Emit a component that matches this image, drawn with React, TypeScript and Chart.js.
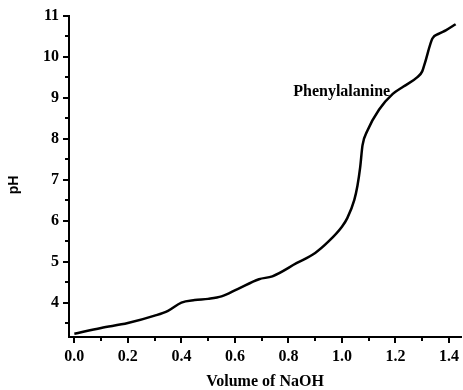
import React, { useEffect, useRef } from "react";
import { Chart, registerables } from "chart.js";

Chart.register(...registerables);

const volumes = [0, 0.1, 0.2, 0.3, 0.35, 0.4, 0.45, 0.5, 0.55, 0.61, 0.69, 0.74, 0.83, 0.9, 0.95, 1.0, 1.02, 1.046, 1.058, 1.068, 1.077, 1.095, 1.139, 1.19, 1.23, 1.282, 1.3, 1.31, 1.338, 1.363, 1.388, 1.425];
const phValues = [3.25, 3.39, 3.51, 3.69, 3.81, 4.01, 4.07, 4.1, 4.16, 4.34, 4.58, 4.65, 4.97, 5.22, 5.5, 5.86, 6.07, 6.51, 6.86, 7.3, 7.85, 8.2, 8.72, 9.1, 9.28, 9.51, 9.65, 9.85, 10.45, 10.57, 10.65, 10.8];
const xTickValues = [0, 0.1, 0.2, 0.3, 0.4, 0.5, 0.6, 0.7, 0.8, 0.9, 1.0, 1.1, 1.2, 1.3, 1.4];
const xMajorLabels = ["0.0", "0.2", "0.4", "0.6", "0.8", "1.0", "1.2", "1.4"];
const yTickValues = [3.5, 4, 4.5, 5, 5.5, 6, 6.5, 7, 7.5, 8, 8.5, 9, 9.5, 10, 10.5, 11];
const seriesLabel = "Phenylalanine";
const xTitle = "Volume of NaOH";
const yTitle = "pH";

const SERIF = "'Liberation Serif', 'Times New Roman', serif";

const isMajorX = (v: number) => Math.abs(Math.round(v * 10) % 2) === 0;
const isMajorY = (v: number) => Math.abs(v - Math.round(v)) < 1e-6;

export default function App() {
  const ref = useRef<HTMLCanvasElement | null>(null);
  useEffect(() => {
    if (!ref.current) return;
    const decor = {
      id: "decor",
      afterDraw(chart: any) {
        const ctx = chart.ctx;
        const xs = chart.scales.x;
        const ys = chart.scales.y;
        const area = chart.chartArea;
        ctx.save();
        ctx.strokeStyle = "#000";
        ctx.lineWidth = 2;
        xTickValues.forEach((v) => {
          const px = Math.round(xs.getPixelForValue(v));
          const len = isMajorX(v) ? 6 : 4;
          ctx.beginPath();
          ctx.moveTo(px, area.bottom);
          ctx.lineTo(px, area.bottom + len);
          ctx.stroke();
        });
        yTickValues.forEach((v) => {
          const py = Math.round(ys.getPixelForValue(v));
          const len = isMajorY(v) ? 6 : 4;
          ctx.beginPath();
          ctx.moveTo(area.left, py);
          ctx.lineTo(area.left - len, py);
          ctx.stroke();
        });
        ctx.fillStyle = "#000";
        ctx.font = "bold 16px " + SERIF;
        ctx.textAlign = "left";
        ctx.textBaseline = "middle";
        ctx.fillText(seriesLabel, xs.getPixelForValue(0.818), ys.getPixelForValue(9.16));
        ctx.textAlign = "center";
        ctx.fillText(xTitle, (area.left + area.right) / 2, 382);
        ctx.translate(14, 185);
        ctx.rotate(-Math.PI / 2);
        ctx.font = "bold 14px 'Liberation Sans', Arial, sans-serif";
        ctx.fillText(yTitle, 0, 0);
        ctx.restore();
      },
    };
    const chart = new Chart(ref.current, {
      type: "line",
      data: {
        datasets: [
          {
            label: seriesLabel,
            data: volumes.map((v, i) => ({ x: v, y: phValues[i] })),
            borderColor: "#000",
            borderWidth: 2.5,
            pointRadius: 0,
            cubicInterpolationMode: "monotone",
            fill: false,
          },
        ],
      },
      options: {
        responsive: false,
        animation: false,
        layout: { padding: { top: 16, right: 1, left: 0, bottom: 0 } },
        plugins: { legend: { display: false }, tooltip: { enabled: false } },
        scales: {
          x: {
            type: "linear",
            min: -0.02,
            max: 1.445,
            afterBuildTicks: (s: any) => {
              s.ticks = xTickValues.map((v) => ({ value: v }));
            },
            afterFit: (s: any) => {
              s.height = 53;
            },
            grid: { display: false, drawTicks: true, tickLength: 6 },
            border: { display: true, color: "#000", width: 2 },
            ticks: {
              autoSkip: false,
              maxRotation: 0,
              padding: 4,
              color: "#000",
              font: { family: SERIF, size: 16, weight: "bold" },
              callback: (v: any) => {
                const n = Number(v);
                if (!isMajorX(n)) return "";
                return xMajorLabels[Math.round(n * 5)] ?? n.toFixed(1);
              },
            },
          },
          y: {
            type: "linear",
            min: 3.17,
            max: 11,
            afterBuildTicks: (s: any) => {
              s.ticks = yTickValues.map((v) => ({ value: v }));
            },
            afterFit: (s: any) => {
              s.width = 69;
            },
            grid: { display: false, drawTicks: true, tickLength: 6 },
            border: { display: true, color: "#000", width: 2 },
            ticks: {
              autoSkip: false,
              padding: 4,
              color: "#000",
              font: { family: SERIF, size: 16, weight: "bold" },
              callback: (v: any) => {
                const n = Number(v);
                return isMajorY(n) ? String(Math.round(n)) : "";
              },
            },
          },
        },
      },
      plugins: [decor],
    } as any);
    return () => chart.destroy();
  }, []);
  return (
    <div style={{ position: "absolute", left: 0, top: 0, width: 463, height: 390, background: "#fff" }}>
      <canvas ref={ref} width={463} height={390} style={{ width: 463, height: 390, display: "block" }} />
    </div>
  );
}
